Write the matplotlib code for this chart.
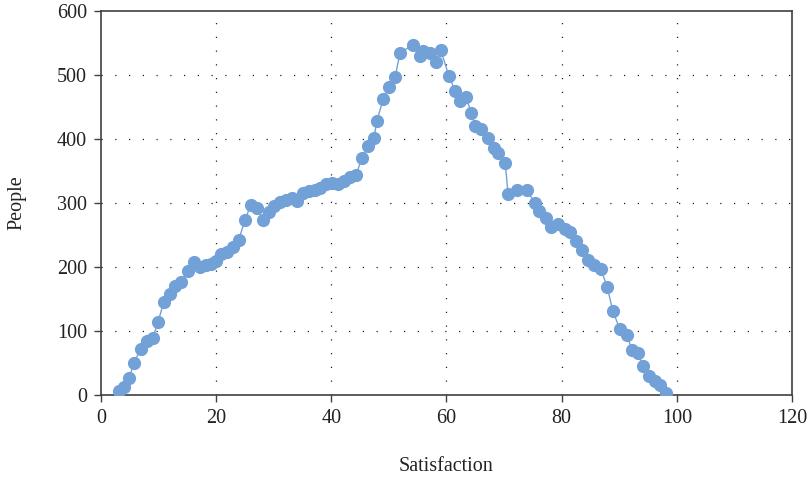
import matplotlib
matplotlib.use('Agg')
import matplotlib.pyplot as plt

# satisfaction score vs number of people
satisfaction = [3.1, 4.0, 4.9, 5.7, 6.9, 8.0, 9.0, 9.9, 10.9, 12.0,
                12.9, 13.9, 15.1, 16.1, 17.2, 18.2, 19.1, 20.0, 20.8, 21.9,
                22.9, 23.9, 25.0, 26.0, 27.1, 28.1, 29.2, 30.0, 31.1, 32.1,
                33.2, 34.0, 35.1, 36.1, 37.2, 38.0, 39.1, 40.1, 41.2, 42.2,
                43.2, 44.3, 45.3, 46.4, 47.4, 47.9, 49.0, 50.0, 51.1, 51.9,
                54.1, 55.4, 55.9, 57.1, 58.2, 59.0, 60.4, 61.5, 62.3, 63.4,
                64.3, 65.0, 66.0, 67.2, 68.3, 68.9, 70.2, 70.7, 72.3, 73.9,
                75.4, 76.0, 77.2, 78.2, 79.3, 80.5, 81.5, 82.5, 83.5, 84.6,
                85.6, 86.8, 87.9, 88.9, 90.1, 91.3, 92.2, 93.2, 94.1, 95.2,
                96.2, 97.1, 98.1]
people = [6, 12, 26, 50, 72, 84, 89, 114, 145, 158,
          170, 177, 193, 208, 200, 203, 205, 210, 220, 224,
          232, 242, 273, 297, 292, 273, 286, 295, 302, 305,
          308, 303, 315, 318, 320, 324, 329, 331, 329, 334,
          340, 344, 370, 389, 401, 428, 462, 481, 497, 534,
          547, 530, 537, 534, 520, 539, 499, 475, 460, 465,
          441, 420, 416, 401, 386, 378, 362, 314, 321, 320,
          300, 287, 276, 263, 267, 259, 254, 241, 226, 211,
          203, 197, 169, 131, 103, 94, 71, 66, 46, 30,
          22, 16, 3]

x_ticks = [0, 20, 40, 60, 80, 100, 120]
y_ticks = [0, 100, 200, 300, 400, 500, 600]

plt.rcParams['font.family'] = ['Liberation Serif', 'DejaVu Serif']

fig = plt.figure(figsize=(8.09, 4.78), dpi=100)
ax = fig.add_axes([0.1248, 0.1736, 0.979 - 0.1248, 0.977 - 0.1736])

col = '#72a1d7'
ax.plot(satisfaction, people, color=col, lw=1.0, marker='o', ms=9.5,
        markeredgewidth=0, zorder=3)

ax.set_xlim(0, 120)
ax.set_ylim(0, 600)
ax.set_xticks(x_ticks)
ax.set_yticks(y_ticks)
ax.tick_params(labelsize=14.5, direction='out', length=5, width=1.0, pad=5,
               color='#404040', labelcolor='#222222')

for x in x_ticks[1:-1]:
    ax.axvline(x, color='#222222', lw=0.9, ls=(0, (1, 10)), zorder=1)
for y in y_ticks[1:-1]:
    ax.axhline(y, color='#222222', lw=0.9, ls=(0, (1, 10)), zorder=1)

for s in ax.spines.values():
    s.set_color('#404040')
    s.set_linewidth(1.2)

ax.set_xlabel('Satisfaction', fontsize=14.5, labelpad=21, color='#222222')
ax.set_ylabel('People', fontsize=14.5, labelpad=22, color='#222222')

fig.savefig('out.png', dpi=100)
